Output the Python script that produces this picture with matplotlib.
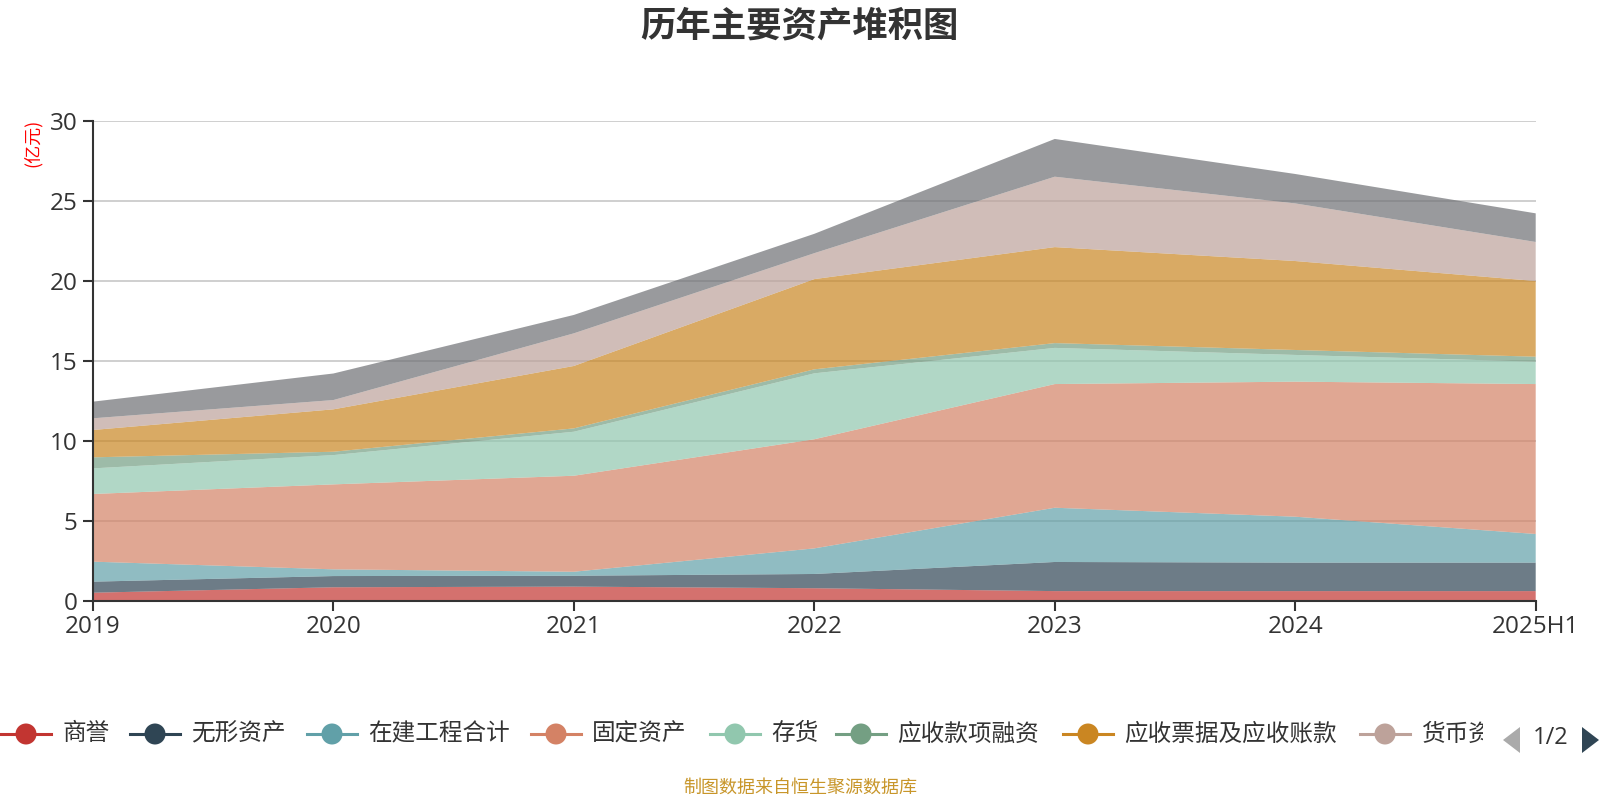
import matplotlib
matplotlib.use("Agg")
import matplotlib.pyplot as plt
from matplotlib.lines import Line2D
from matplotlib.patches import Polygon, Ellipse
from matplotlib.transforms import Bbox

plt.rcParams['font.family'] = ['Noto Sans CJK SC', 'DejaVu Sans']

# ---------------- data ----------------
years = ["2019", "2020", "2021", "2022", "2023", "2024", "2025H1"]
series_names = ["商誉", "无形资产", "在建工程合计", "固定资产", "存货",
                "应收款项融资", "应收票据及应收账款", "货币资金", "其他"]
goodwill      = [0.50, 0.84, 0.88, 0.78, 0.60, 0.60, 0.60]
intangible    = [0.69, 0.70, 0.68, 0.89, 1.82, 1.78, 1.78]
construction  = [1.25, 0.42, 0.25, 1.60, 3.39, 2.87, 1.79]
fixed_assets  = [4.23, 5.31, 6.00, 6.82, 7.73, 8.44, 9.37]
inventory     = [1.60, 1.83, 2.75, 4.12, 2.26, 1.67, 1.40]
fin_receiv    = [0.69, 0.21, 0.21, 0.25, 0.30, 0.31, 0.31]
notes_ar      = [1.71, 2.65, 3.90, 5.64, 6.00, 5.56, 4.73]
cash          = [0.73, 0.58, 2.04, 1.62, 4.40, 3.60, 2.44]
other         = [1.04, 1.66, 1.15, 1.21, 2.36, 1.84, 1.79]
yticks = [0, 5, 10, 15, 20, 25, 30]

colors = ['#c23531', '#2f4554', '#61a0a8', '#d48265', '#91c7ae',
          '#749f83', '#ca8622', '#bda29a', '#6e7074']

W, H = 1600, 800
fig = plt.figure(figsize=(16, 8), dpi=100)

def fx(px):
    return px / W

def fy(py):
    return 1 - py / H

ax = fig.add_axes([fx(92.9), fy(600.7), fx(1535.7 - 92.9), (600.7 - 120.7) / H])
x = list(range(len(years)))
data = [goodwill, intangible, construction, fixed_assets, inventory,
        fin_receiv, notes_ar, cash, other]
ax.stackplot(x, *data, colors=colors, alpha=0.7, linewidth=0, zorder=2)

ax.set_xlim(0, len(years) - 1)
ax.set_ylim(0, 30)
ax.set_yticks(yticks)
ax.set_xticks(x)
ax.set_xticklabels(years)
ax.grid(axis='y', color='#cccccc', linewidth=1.3, zorder=1)
ax.set_axisbelow(True)
for s in ['top', 'right']:
    ax.spines[s].set_visible(False)
for s in ['left', 'bottom']:
    ax.spines[s].set_color('#333333')
    ax.spines[s].set_linewidth(1.5)
    ax.spines[s].set_zorder(5)
ax.tick_params(axis='both', colors='#333333', labelsize=17.5, length=7, width=1.5)
ax.tick_params(axis='x', pad=3)
ax.tick_params(axis='y', pad=4)
for lab in ax.get_xticklabels() + ax.get_yticklabels():
    lab.set_family(['Open Sans', 'Noto Sans CJK SC'])

# unit label
fig.text(fx(33), fy(143), "(亿元)", color='#ff0000', fontsize=13,
         rotation=90, ha='center', va='center')

# title
fig.text(fx(799), fy(25.5), "历年主要资产堆积图", fontsize=25.5, fontweight='bold',
         color='#333333', ha='center', va='center')

# legend (manual, page 1 of 2)
leg_y = 734
circle_x = [26, 155, 332, 556, 735, 861, 1088, 1385]
clip = Bbox.from_extents(0, 0, 1483, H)
for i, cx in enumerate(circle_x):
    ln = Line2D([fx(cx - 25), fx(cx + 25)], [fy(leg_y), fy(leg_y)],
                transform=fig.transFigure, color=colors[i], linewidth=2.2)
    fig.add_artist(ln)
    el = Ellipse((fx(cx), fy(leg_y)), width=21 / W, height=21 / H,
                 transform=fig.transFigure, facecolor=colors[i], edgecolor='none')
    fig.add_artist(el)
    t = fig.text(fx(cx + 36), fy(leg_y), series_names[i], fontsize=17,
                 color='#333333', ha='left', va='center')
    t.set_clip_box(clip)
    t.set_clip_on(True)

# pager arrows
left_tri = Polygon([[fx(1503), fy(740)], [fx(1520), fy(727)], [fx(1520), fy(753)]],
                   closed=True, transform=fig.transFigure, facecolor='#aaaaaa',
                   edgecolor='none')
right_tri = Polygon([[fx(1599), fy(740)], [fx(1582), fy(727)], [fx(1582), fy(753)]],
                    closed=True, transform=fig.transFigure, facecolor='#2f4554',
                    edgecolor='none')
fig.add_artist(left_tri)
fig.add_artist(right_tri)
fig.text(fx(1551), fy(738), "1/2", fontsize=17, color='#333333',
         ha='center', va='center', family=['Open Sans', 'Noto Sans CJK SC'])

# footer
fig.text(fx(800), fy(788), "制图数据来自恒生聚源数据库", fontsize=13,
         color='#c8962a', ha='center', va='center')

fig.savefig("out.png", dpi=100)
